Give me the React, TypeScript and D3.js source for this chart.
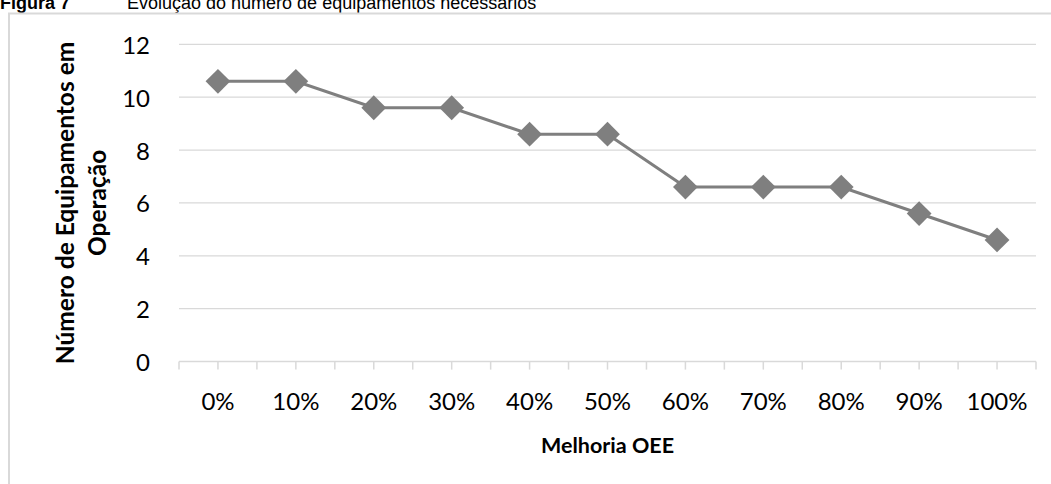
import React from "react";
import * as d3 from "d3";

const categories = ["0%", "10%", "20%", "30%", "40%", "50%", "60%", "70%", "80%", "90%", "100%"];
const values = [10.6, 10.6, 9.6, 9.6, 8.6, 8.6, 6.6, 6.6, 6.6, 5.6, 4.6];
const yTicks = [0, 2, 4, 6, 8, 10, 12];
const titleBold = "Figura 7";
const titleRest = "Evolução do número de equipamentos necessários";
const xTitle = "Melhoria OEE";
const yTitleLines = ["Número de Equipamentos em", "Operação"];

const W = 1051;
const H = 484;
const plot = { left: 179, right: 1036, top: 44.3, bottom: 361.6 };
const FONT = "Lato, 'Open Sans', sans-serif";

export default function App() {
  const x = d3.scaleBand<string>().domain(categories).range([plot.left, plot.right]).padding(0);
  const y = d3.scaleLinear().domain([0, 12]).range([plot.bottom, plot.top]);
  const line = d3
    .line<number>()
    .x((_, i) => (x(categories[i]) as number) + x.bandwidth() / 2)
    .y((d) => y(d));
  const diamond = d3.symbol().type(d3.symbolDiamond2).size(2 * 14 * 14)();
  const tickXs: number[] = [];
  categories.forEach((c) => {
    const s = x(c) as number;
    tickXs.push(s, s + x.bandwidth() / 2);
  });
  tickXs.push(plot.right);
  const gridColor = "#d9d9d9";
  const cy = (plot.top + plot.bottom) / 2;
  return (
    <svg
      width={W}
      height={H}
      style={{ position: "absolute", left: 0, top: 0, background: "#fff" }}
    >
      <text x={0} y={8.5} fontFamily="'Liberation Sans', Arial, sans-serif" fontSize={18} fontWeight="bold" fill="#000">
        {titleBold}
      </text>
      <text x={127} y={8.5} fontFamily="'Liberation Sans', Arial, sans-serif" fontSize={18} fill="#000">
        {titleRest}
      </text>
      <rect x={9} y={13.5} width={W + 10} height={H} fill="none" stroke={gridColor} strokeWidth={2} />
      {yTicks.map((t) => (
        <g key={t}>
          {t > 0 && (
            <line x1={plot.left} x2={plot.right} y1={y(t)} y2={y(t)} stroke={gridColor} strokeWidth={1.3} />
          )}
          <text
            x={150}
            y={y(t)}
            textAnchor="end"
            dominantBaseline="central"
            fontFamily={FONT}
            fontSize={24}
            fill="#000"
          >
            {t}
          </text>
        </g>
      ))}
      <line x1={plot.left} x2={plot.right} y1={plot.bottom} y2={plot.bottom} stroke={gridColor} strokeWidth={1.5} />
      {tickXs.map((tx, i) => (
        <line key={i} x1={tx} x2={tx} y1={plot.bottom} y2={plot.bottom + 8} stroke={gridColor} strokeWidth={1.5} />
      ))}
      {categories.map((c) => (
        <text
          key={c}
          x={(x(c) as number) + x.bandwidth() / 2}
          y={400}
          textAnchor="middle"
          dominantBaseline="central"
          fontFamily={FONT}
          fontSize={24}
          fill="#000"
        >
          {c}
        </text>
      ))}
      <path d={line(values) || ""} fill="none" stroke="#7f7f7f" strokeWidth={3} />
      {values.map((v, i) => (
        <path
          key={i}
          d={diamond || ""}
          transform={`translate(${(x(categories[i]) as number) + x.bandwidth() / 2},${y(v)})`}
          fill="#7f7f7f"
        />
      ))}
      <text
        x={(plot.left + plot.right) / 2}
        y={445}
        textAnchor="middle"
        dominantBaseline="central"
        fontFamily={FONT}
        fontSize={21.5}
        fontWeight="bold"
        fill="#000"
      >
        {xTitle}
      </text>
      {yTitleLines.map((l, i) => (
        <text
          key={l}
          transform={`translate(${64 + i * 32},${cy}) rotate(-90)`}
          textAnchor="middle"
          dominantBaseline="central"
          fontFamily={FONT}
          fontSize={24.5}
          fontWeight="bold"
          fill="#000"
        >
          {l}
        </text>
      ))}
    </svg>
  );
}
